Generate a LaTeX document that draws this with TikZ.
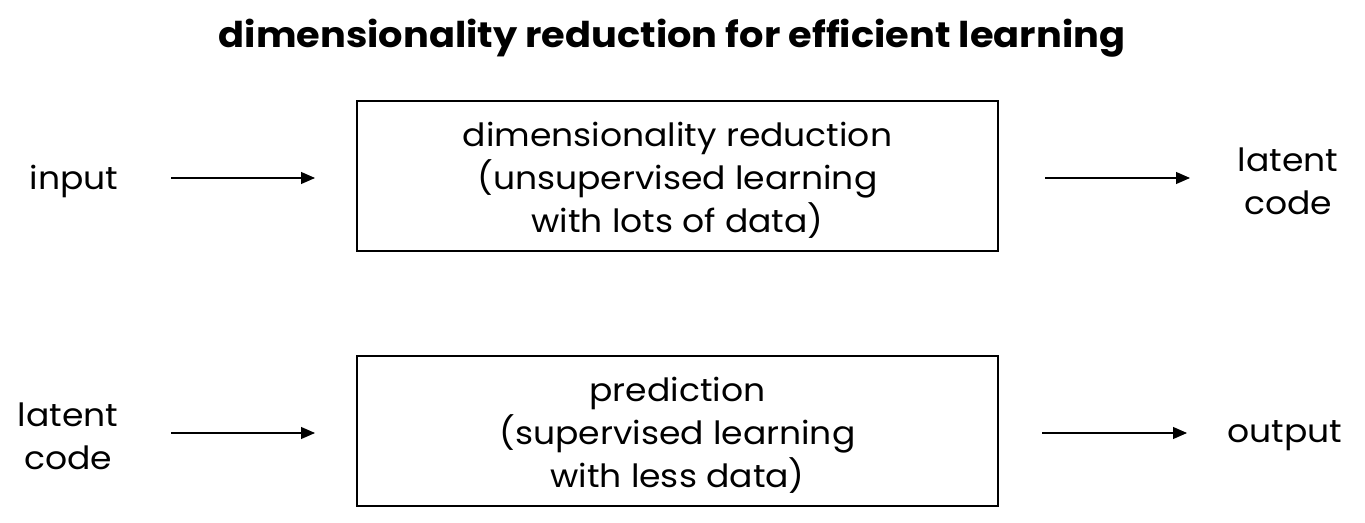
\documentclass[tikz,border=0pt]{standalone}
\usepackage{fontspec}
\setmainfont{Poppins}[FakeStretch=1.08]
\usetikzlibrary{arrows.meta}
\begin{document}
\begin{tikzpicture}[x=1pt,y=1pt,
  box/.style={draw,line width=1.3pt,minimum width=641pt,minimum height=150pt,align=center,font=\fontsize{32}{43}\selectfont},
  lab/.style={align=center,font=\fontsize{32}{43}\selectfont},
  arr/.style={-{Triangle[length=14pt,width=12pt]},line width=1.1pt}]
\useasboundingbox (0,0) rectangle (1365,522);
\node[font=\bfseries\fontsize{35.5}{40}\selectfont] (title) at (672,484) {dimensionality reduction for efficient learning};
\node[draw=none,align=center,font=\fontsize{32}{43}\selectfont] (t1) at (677.5,342) {dimensionality reduction\\(unsupervised learning\\with lots of data)};
\node[box] (b1) at (677.5,346) {};
\node[draw=none,align=center,font=\fontsize{32}{43}\selectfont] (t2) at (677.5,87) {prediction\\(supervised learning\\with less data)};
\node[box] (b2) at (677.5,91) {};
\node[lab] (in) at (74,341) {input};
\node[lab] (lc1) at (1288,341) {latent\\code};
\node[lab] (lc2) at (68,86) {latent\\code};
\node[lab] (out) at (1285,86) {output};
\coordinate (a1s) at (171,344); \coordinate (a1e) at (315,344);
\coordinate (a2s) at (1045,344); \coordinate (a2e) at (1190,344);
\coordinate (a3s) at (171,89); \coordinate (a3e) at (315,89);
\coordinate (a4s) at (1042,89); \coordinate (a4e) at (1187,89);
\draw[arr] (a1s) -- (a1e);
\draw[arr] (a2s) -- (a2e);
\draw[arr] (a3s) -- (a3e);
\draw[arr] (a4s) -- (a4e);
\end{tikzpicture}
\end{document}
